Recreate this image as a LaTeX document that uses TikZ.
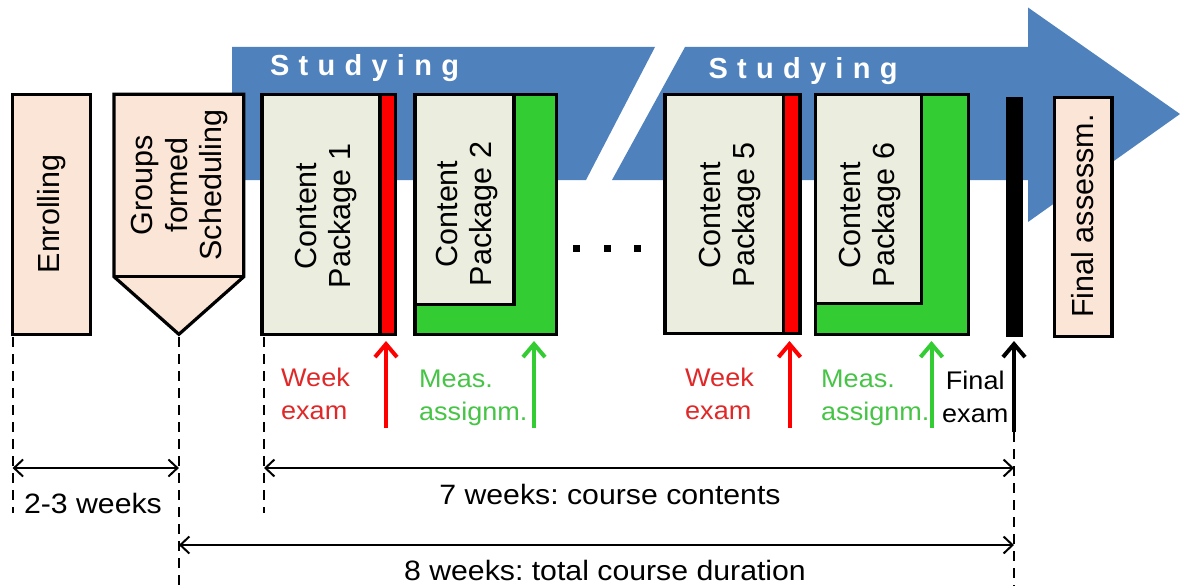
\documentclass[tikz,border=0pt]{standalone}
\usepackage{fontspec}
\setmainfont{Liberation Sans}
\newfontfamily\studyfont[LetterSpace=32]{Liberation Sans}
\newfontfamily\lblfont[FakeStretch=1.06]{Liberation Sans}
\newfontfamily\dimfont[FakeStretch=1.08]{Liberation Sans}
\usetikzlibrary{arrows.meta}
\frenchspacing
\definecolor{peach}{RGB}{251,229,214}
\definecolor{pale}{RGB}{235,238,222}
\definecolor{bargreen}{RGB}{51,204,51}
\definecolor{barred}{RGB}{255,0,0}
\definecolor{flowblue}{RGB}{79,129,189}
\definecolor{lblred}{RGB}{224,40,40}
\definecolor{lblgreen}{RGB}{70,196,70}
\tikzset{
  boxline/.style={draw=black, line width=3.2pt},
  boxtext/.style={rotate=90, align=center, font=\fontsize{30.5}{34.5}\selectfont, inner sep=0pt},
  lbl/.style={align=left, font=\lblfont\fontsize{25.5}{32.5}\selectfont, inner sep=0pt, anchor=west},
  dimtext/.style={font=\dimfont\fontsize{28}{33}\selectfont\frenchspacing, inner sep=0pt},
  guide/.style={draw=black, line width=2.2pt, dash pattern=on 10pt off 7pt},
  uparrow/.style={line width=4pt, -{Straight Barb[length=13pt,width=22pt,line width=4pt]}},
  dimarrow/.style={line width=2pt, {Straight Barb[length=9pt,width=17pt,line width=2pt]}-{Straight Barb[length=9pt,width=17pt,line width=2pt]}},
  studytext/.style={text=white, font=\studyfont\bfseries\fontsize{29}{33}\selectfont, inner sep=0pt}
}
\begin{document}
\begin{tikzpicture}[x=1pt,y=-1pt]
\useasboundingbox (0,0) rectangle (1180,586);
% big blue arrow, in two parts
\fill[flowblue] (232,47) -- (655,47) -- (586,180) -- (232,180) -- cycle;
\fill[flowblue] (685,47) -- (1028,47) -- (1028,7.5) -- (1180,114) -- (1028,222) -- (1028,180) -- (612,180) -- cycle;
\node[studytext] (study1) at (364.5,68) {Studying};
\node[studytext] (study2) at (803,71) {Studying};
% Enrolling
\draw[boxline, fill=peach] (12.6,94.3) rectangle (90.7,334.3);
\node[boxtext] (enr) at (51.6,214) {Enrolling};
% Groups formed Scheduling
\draw[boxline, fill=peach] (114,94.3) -- (243.8,94.3) -- (243.8,276.7) -- (178.9,334.3) -- (114,276.7) -- cycle;
\draw[boxline] (114,276.7) -- (243.8,276.7);
\node[boxtext] (grp) at (180,185) {Groups\\formed\\Scheduling};
% Content Package 1
\draw[boxline, fill=pale] (262,94.3) rectangle (395.3,334.3);
\draw[boxline, fill=barred] (380,94.3) rectangle (395.3,334.3);
\node[boxtext] (cp1) at (326,216) {Content\\Package 1};
% Content Package 2
\draw[boxline, fill=bargreen] (415,94.3) rectangle (556.8,334.3);
\draw[boxline, fill=pale] (415,94.3) rectangle (514,304.3);
\node[boxtext] (cp2) at (467,214) {Content\\Package 2};
% dots
\foreach \dx/\nm in {576/d1,607/d2,637/d3}
  \node[fill=black, minimum size=7pt, inner sep=0pt] (\nm) at (\dx,248) {};
% Content Package 5
\draw[boxline, fill=pale] (665,94.3) rectangle (800,333.3);
\draw[boxline, fill=barred] (783.6,94.3) rectangle (800,333.3);
\node[boxtext] (cp5) at (730,215) {Content\\Package 5};
% Content Package 6
\draw[boxline, fill=bargreen] (815.4,94.3) rectangle (968.4,334.3);
\draw[boxline, fill=pale] (815.4,94.3) rectangle (921.7,303.3);
\node[boxtext] (cp6) at (870,215) {Content\\Package 6};
% final exam bar
\fill[black] (1005.6,96.7) rectangle (1022.8,336.7);
% Final assessm.
\draw[boxline, fill=peach] (1054.6,97.3) rectangle (1112,336.7);
\node[boxtext] (fin) at (1083,216) {Final assessm.};
% guide coordinates
\coordinate (g1t) at (12.6,337);   \coordinate (g1b) at (12.6,513);
\coordinate (g2t) at (178.9,337);  \coordinate (g2b) at (178.9,586);
\coordinate (g3t) at (264,337);    \coordinate (g3b) at (264,513);
\coordinate (g4t) at (1014,432);   \coordinate (g4b) at (1014,586);
\draw[guide] (g1t) -- (g1b);
\draw[guide] (g2t) -- (g2b);
\draw[guide] (g3t) -- (g3b);
\draw[guide] (g4t) -- (g4b);
% up arrows
\coordinate (a1s) at (386,428); \coordinate (a1e) at (386,341);
\coordinate (a2s) at (534,428); \coordinate (a2e) at (534,341);
\coordinate (a3s) at (789.5,428); \coordinate (a3e) at (789.5,341);
\coordinate (a4s) at (931.5,428); \coordinate (a4e) at (931.5,341);
\coordinate (a5s) at (1014,432); \coordinate (a5e) at (1014,341);
\draw[uparrow, barred] (a1s) -- (a1e);
\draw[uparrow, bargreen] (a2s) -- (a2e);
\draw[uparrow, barred] (a3s) -- (a3e);
\draw[uparrow, bargreen] (a4s) -- (a4e);
\draw[uparrow, black] (a5s) -- (a5e);
% labels
\node[lbl, text=lblred] (we1) at (281,394) {Week\\exam};
\node[lbl, text=lblgreen] (ma1) at (419,398) {Meas.\\assignm.};
\node[lbl, text=lblred] (we2) at (685,394) {Week\\exam};
\node[lbl, text=lblgreen] (ma2) at (821,398) {Meas.\\assignm.};
\node[lbl, align=center, text=black] (fe) at (942,397) {Final\\exam};
% dimension arrows
\coordinate (d1a) at (12.6,468); \coordinate (d1b) at (178.9,468);
\coordinate (d2a) at (264,468);  \coordinate (d2b) at (1014,468);
\coordinate (d3a) at (178.9,545); \coordinate (d3b) at (1014,545);
\draw[dimarrow] (d1a) -- (d1b);
\draw[dimarrow] (d2a) -- (d2b);
\draw[dimarrow] (d3a) -- (d3b);
\node[dimtext] (t1) at (93,503) {2-3 weeks};
\node[dimtext] (t2) at (610,494) {7 weeks: course contents};
\node[dimtext] (t3) at (605,570) {8 weeks: total course duration};
\end{tikzpicture}
\end{document}
